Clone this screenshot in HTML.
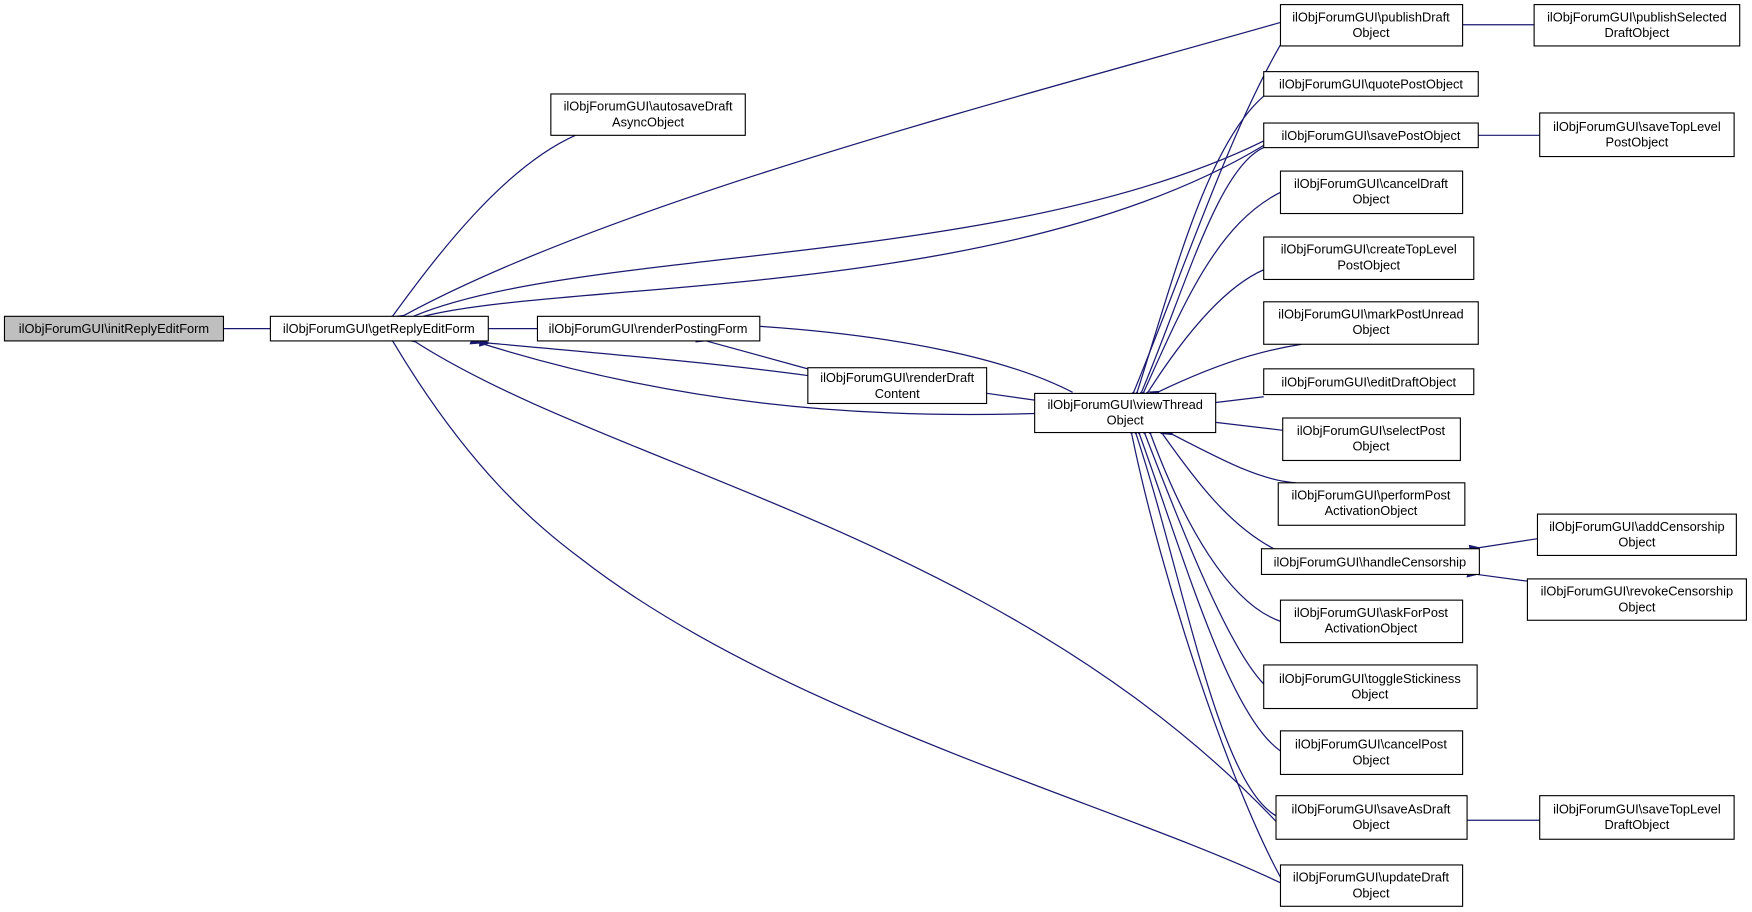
<!DOCTYPE html>
<html><head><meta charset="utf-8"><style>
html,body{margin:0;padding:0;background:#fff;}
svg{display:block;}
text{font-family:"Liberation Sans",sans-serif;font-size:11.5px;fill:#000;}
</style></head><body>
<svg width="1752" height="912" viewBox="0 0 1568 816" xmlns="http://www.w3.org/2000/svg">
<defs>
<marker id="a" markerWidth="10" markerHeight="8" refX="1" refY="4" orient="auto-start-reverse" markerUnits="userSpaceOnUse">
<path d="M0,4 L10,0 L10,8 Z" fill="#191970"/>
</marker>
</defs>
<g fill="none" stroke="#191970" stroke-width="1.1" marker-start="url(#a)">
<path d="M201,294 L242,294"/>
<path d="M438,294 L481,294"/>
<path d="M352,282 C390,230 450,150 515,121"/>
<path d="M362,282 C550,180 900,90 1146,20"/>
<path d="M370,283 C520,220 900,240 1131,126"/>
<path d="M375,284 C500,250 900,270 1131,130"/>
<path d="M438,307 C560,318 650,326 723,336"/>
<path d="M430,307 C600,360 760,375 926,370"/>
<path d="M372,306 C550,420 900,480 1142,735"/>
<path d="M352,306 C420,420 480,470 520,500 C700,640 1000,720 1146,790"/>
<path d="M632,305 L723,330"/>
<path d="M681,292 C800,300 900,320 960,351"/>
<path d="M884,352 L926,358"/>
<path d="M1304,22 L1373,22"/>
<path d="M1324,121 L1378,121"/>
<path d="M1314,734 L1378,734"/>
<path d="M1324,490 L1376,482"/>
<path d="M1322,514 L1367,520"/>
<!-- into viewThread top -->
<path d="M1015,350 C1060,240 1100,120 1146,40"/>
<path d="M1018,350 C1050,250 1080,130 1131,86"/>
<path d="M1022,350 C1060,260 1090,150 1131,132"/>
<path d="M1024,350 C1060,270 1090,200 1146,172"/>
<path d="M1028,350 C1060,300 1100,250 1140,238"/>
<path d="M1038,350 C1080,330 1120,315 1165,308"/>
<path d="M1089,360 L1131,355"/>
<path d="M1089,378 L1148,385"/>
<path d="M1050,389 C1100,415 1130,430 1160,432"/>
<!-- into viewThread bottom -->
<path d="M1041,389 C1070,430 1100,470 1140,491"/>
<path d="M1030,389 C1060,470 1100,540 1146,556"/>
<path d="M1025,389 C1060,480 1100,580 1131,612"/>
<path d="M1020,389 C1060,500 1100,640 1146,672"/>
<path d="M1017,389 C1060,520 1090,700 1142,730"/>
<path d="M1013,389 C1040,520 1100,700 1146,785"/>
</g>
<g stroke="#000" stroke-width="1">
<rect x="4" y="283" width="196" height="22" fill="#bfbfbf"/>
<rect x="242" y="283" width="195" height="22" fill="#fff"/>
<rect x="493" y="84" width="174" height="37" fill="#fff"/>
<rect x="481" y="283" width="199" height="22" fill="#fff"/>
<rect x="723" y="329" width="160" height="32" fill="#fff"/>
<rect x="926" y="352" width="162" height="35" fill="#fff"/>
<rect x="1146" y="4" width="163" height="37" fill="#fff"/>
<rect x="1131" y="64" width="192" height="22" fill="#fff"/>
<rect x="1131" y="110" width="192" height="22" fill="#fff"/>
<rect x="1146" y="153" width="163" height="38" fill="#fff"/>
<rect x="1131" y="212" width="188" height="38" fill="#fff"/>
<rect x="1131" y="270" width="192" height="38" fill="#fff"/>
<rect x="1131" y="330" width="188" height="23" fill="#fff"/>
<rect x="1148" y="374" width="159" height="38" fill="#fff"/>
<rect x="1144" y="432" width="167" height="38" fill="#fff"/>
<rect x="1129" y="491" width="195" height="23" fill="#fff"/>
<rect x="1146" y="537" width="163" height="38" fill="#fff"/>
<rect x="1131" y="595" width="191" height="39" fill="#fff"/>
<rect x="1146" y="654" width="163" height="39" fill="#fff"/>
<rect x="1142" y="712" width="171" height="39" fill="#fff"/>
<rect x="1146" y="774" width="163" height="37" fill="#fff"/>
<rect x="1373" y="4" width="184" height="37" fill="#fff"/>
<rect x="1378" y="101" width="174" height="39" fill="#fff"/>
<rect x="1376" y="460" width="178" height="37" fill="#fff"/>
<rect x="1367" y="518" width="196" height="37" fill="#fff"/>
<rect x="1378" y="712" width="174" height="39" fill="#fff"/>
</g>
<g text-anchor="middle">
<text x="102" y="298">ilObjForumGUI\initReplyEditForm</text>
<text x="339" y="298">ilObjForumGUI\getReplyEditForm</text>
<text x="580" y="99">ilObjForumGUI\autosaveDraft</text><text x="580" y="113">AsyncObject</text>
<text x="580" y="298">ilObjForumGUI\renderPostingForm</text>
<text x="803" y="342">ilObjForumGUI\renderDraft</text><text x="803" y="356">Content</text>
<text x="1007" y="366">ilObjForumGUI\viewThread</text><text x="1007" y="380">Object</text>
<text x="1227" y="19">ilObjForumGUI\publishDraft</text><text x="1227" y="33">Object</text>
<text x="1227" y="79">ilObjForumGUI\quotePostObject</text>
<text x="1227" y="125">ilObjForumGUI\savePostObject</text>
<text x="1227" y="168">ilObjForumGUI\cancelDraft</text><text x="1227" y="182">Object</text>
<text x="1225" y="227">ilObjForumGUI\createTopLevel</text><text x="1225" y="241">PostObject</text>
<text x="1227" y="285">ilObjForumGUI\markPostUnread</text><text x="1227" y="299">Object</text>
<text x="1225" y="346">ilObjForumGUI\editDraftObject</text>
<text x="1227" y="389">ilObjForumGUI\selectPost</text><text x="1227" y="403">Object</text>
<text x="1227" y="447">ilObjForumGUI\performPost</text><text x="1227" y="461">ActivationObject</text>
<text x="1226" y="507">ilObjForumGUI\handleCensorship</text>
<text x="1227" y="552">ilObjForumGUI\askForPost</text><text x="1227" y="566">ActivationObject</text>
<text x="1226" y="611">ilObjForumGUI\toggleStickiness</text><text x="1226" y="625">Object</text>
<text x="1227" y="670">ilObjForumGUI\cancelPost</text><text x="1227" y="684">Object</text>
<text x="1227" y="728">ilObjForumGUI\saveAsDraft</text><text x="1227" y="742">Object</text>
<text x="1227" y="789">ilObjForumGUI\updateDraft</text><text x="1227" y="803">Object</text>
<text x="1465" y="19">ilObjForumGUI\publishSelected</text><text x="1465" y="33">DraftObject</text>
<text x="1465" y="117">ilObjForumGUI\saveTopLevel</text><text x="1465" y="131">PostObject</text>
<text x="1465" y="475">ilObjForumGUI\addCensorship</text><text x="1465" y="489">Object</text>
<text x="1465" y="533">ilObjForumGUI\revokeCensorship</text><text x="1465" y="547">Object</text>
<text x="1465" y="728">ilObjForumGUI\saveTopLevel</text><text x="1465" y="742">DraftObject</text>
</g>
</svg>
</body></html>
